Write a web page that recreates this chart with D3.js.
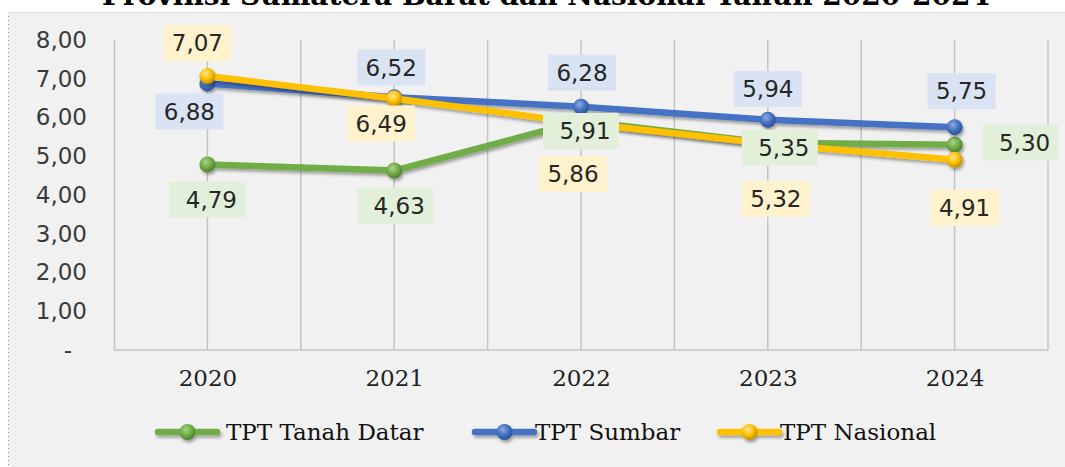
<!DOCTYPE html>
<html lang="id">
<head>
<meta charset="utf-8">
<title>TPT Tanah Datar, Sumbar, Nasional 2020-2024</title>
<script src="https://cdn.jsdelivr.net/npm/d3@7"></script>
<style>
	body { margin: 0; background: #fff; }
	svg { display: block; }
</style>
</head>
<body>
<script>
	// data
	const years = ["2020", "2021", "2022", "2023", "2024"];
	const tanahDatar = [4.79, 4.63, 5.91, 5.35, 5.30];
	const sumbar = [6.88, 6.52, 6.28, 5.94, 5.75];
	const nasional = [7.07, 6.49, 5.86, 5.32, 4.91];
	const yTicks = [0, 1, 2, 3, 4, 5, 6, 7, 8];
	const seriesNames = ["TPT Tanah Datar", "TPT Sumbar", "TPT Nasional"];

	// label offsets (dx, dy) from each point, per series
	const labelOffsets = [
		[[0, 35], [1, 35], [0, 10], [12, 5], [66, -2]],
		[[-18, 28], [-3, -30], [1, -34], [0, -31], [7, -36]],
		[[-10, -33], [-13, 25], [-8, 51], [8, 55], [10, 48]]
	];

	const w = 1065, h = 467;
	const plotLeft = 114, plotRight = 1048, plotTop = 40, plotBottom = 350;

	const series = [
		{ name: seriesNames[0], values: tanahDatar, color: "#70ad47", light: "#a9d18e", dark: "#4e7f2f", box: "#e2f0d9", boxW: 76, textDx: 4 },
		{ name: seriesNames[1], values: sumbar, color: "#4472c4", light: "#8faadc", dark: "#2f528f", box: "#dae3f3", boxW: 68, textDx: 0 },
		{ name: seriesNames[2], values: nasional, color: "#ffc000", light: "#ffe699", dark: "#bf9000", box: "#fff2cc", boxW: 68, textDx: 0 }
	];

	const svg = d3.select("body").append("svg")
		.attr("width", w)
		.attr("height", h);

	const defs = svg.append("defs");

	const shadow = defs.append("filter")
		.attr("id", "shadow")
		.attr("x", "-20%").attr("y", "-50%")
		.attr("width", "140%").attr("height", "200%");
	shadow.append("feDropShadow")
		.attr("dx", 1.5).attr("dy", 2.5)
		.attr("stdDeviation", 1.5)
		.attr("flood-color", "#000")
		.attr("flood-opacity", 0.35);

	series.forEach(function (s, i) {
		const g = defs.append("radialGradient")
			.attr("id", "ball" + i)
			.attr("cx", "40%").attr("cy", "35%").attr("r", "65%");
		g.append("stop").attr("offset", "0%").attr("stop-color", s.light);
		g.append("stop").attr("offset", "55%").attr("stop-color", s.color);
		g.append("stop").attr("offset", "100%").attr("stop-color", s.dark);
	});

	// title, cut off at the top as in the source
	svg.append("text")
		.attr("x", 546)
		.attr("y", 5)
		.attr("text-anchor", "middle")
		.attr("font-family", "DejaVu Serif")
		.attr("font-weight", "bold")
		.attr("font-size", "28px")
		.attr("textLength", 888)
		.attr("lengthAdjust", "spacingAndGlyphs")
		.attr("fill", "#000")
		.text("Provinsi Sumatera Barat dan Nasional Tahun 2020-2024");

	// chart panel
	svg.append("rect")
		.attr("x", 8).attr("y", 12)
		.attr("width", w - 8).attr("height", h - 12)
		.attr("fill", "#f1f1f1");
	svg.append("line")
		.attr("x1", 8.5).attr("x2", 8.5)
		.attr("y1", 12).attr("y2", h)
		.attr("stroke", "#999")
		.attr("stroke-dasharray", "1,3");
	svg.append("line")
		.attr("x1", 8).attr("x2", w)
		.attr("y1", 12.5).attr("y2", 12.5)
		.attr("stroke", "#ddd");

	const x = d3.scalePoint()
		.domain(years)
		.range([plotLeft, plotRight])
		.padding(0.5);
	const step = x.step();

	const y = d3.scaleLinear()
		.domain([0, 8])
		.range([plotBottom, plotTop]);

	// vertical gridlines at category centres and boundaries
	const gridX = [];
	years.forEach(function (yr, i) {
		if (i > 0) gridX.push(x(yr) - step / 2);
		gridX.push(x(yr));
	});
	gridX.push(plotRight);

	svg.selectAll("line.grid")
		.data(gridX)
		.enter()
		.append("line")
		.attr("class", "grid")
		.attr("x1", function (d) { return d; })
		.attr("x2", function (d) { return d; })
		.attr("y1", plotTop)
		.attr("y2", plotBottom)
		.attr("stroke", "#c3c3c3")
		.attr("stroke-width", 1.5);

	// y axis
	const yAxis = d3.axisLeft(y)
		.tickValues(yTicks)
		.tickSize(0)
		.tickPadding(27)
		.tickFormat(function (d) {
			return d === 0 ? "-" : d.toFixed(2).replace(".", ",");
		});

	const gy = svg.append("g")
		.attr("transform", `translate(${plotLeft},0)`)
		.call(yAxis);
	gy.select(".domain").attr("stroke", "#c3c3c3").attr("stroke-width", 1.5);
	gy.selectAll("text")
		.attr("font-family", "DejaVu Sans")
		.attr("font-size", "23px")
		.attr("fill", "#3a3a3a")
		.attr("dx", function (d) { return d === 0 ? -15 : 0; });

	// x axis
	const xAxis = d3.axisBottom(x)
		.tickSize(0)
		.tickPadding(20);

	const gx = svg.append("g")
		.attr("transform", `translate(0,${plotBottom})`)
		.call(xAxis);
	gx.select(".domain")
		.attr("d", `M${plotLeft},0H${plotRight}`)
		.attr("stroke", "#c3c3c3")
		.attr("stroke-width", 1.5);
	gx.selectAll("text")
		.attr("font-family", "DejaVu Serif")
		.attr("font-size", "23px")
		.attr("fill", "#222");

	// lines and markers
	const line = d3.line()
		.x(function (d, i) { return x(years[i]); })
		.y(function (d) { return y(d); });

	series.forEach(function (s, si) {
		const g = svg.append("g").attr("filter", "url(#shadow)");
		g.append("path")
			.datum(s.values)
			.attr("d", line)
			.attr("fill", "none")
			.attr("stroke", s.color)
			.attr("stroke-width", 6.5)
			.attr("stroke-linejoin", "round")
			.attr("stroke-linecap", "round");
		g.selectAll("circle")
			.data(s.values)
			.enter()
			.append("circle")
			.attr("cx", function (d, i) { return x(years[i]); })
			.attr("cy", function (d) { return y(d); })
			.attr("r", 8)
			.attr("fill", "url(#ball" + si + ")");
	});

	// data labels
	series.forEach(function (s, si) {
		const g = svg.append("g");
		const lab = g.selectAll("g")
			.data(s.values)
			.enter()
			.append("g")
			.attr("transform", function (d, i) {
				const o = labelOffsets[si][i];
				return `translate(${x(years[i]) + o[0]},${y(d) + o[1]})`;
			});
		lab.append("rect")
			.attr("x", -s.boxW / 2)
			.attr("y", -18)
			.attr("width", s.boxW)
			.attr("height", 36)
			.attr("fill", s.box);
		lab.append("text")
			.attr("x", s.textDx)
			.attr("y", 0)
			.attr("dy", "0.36em")
			.attr("text-anchor", "middle")
			.attr("font-family", "DejaVu Sans")
			.attr("font-size", "23px")
			.attr("fill", "#262626")
			.text(function (d) { return d.toFixed(2).replace(".", ","); });
	});

	// legend
	const legendX = [158, 475, 720];
	const legendY = 432;
	series.forEach(function (s, si) {
		const g = svg.append("g")
			.attr("transform", `translate(${legendX[si]},${legendY})`);
		const lg = g.append("g").attr("filter", "url(#shadow)");
		lg.append("line")
			.attr("x1", 0).attr("x2", 59)
			.attr("stroke", s.color)
			.attr("stroke-width", 6.5)
			.attr("stroke-linecap", "round");
		lg.append("circle")
			.attr("cx", 29.5)
			.attr("r", 8)
			.attr("fill", "url(#ball" + si + ")");
		g.append("text")
			.attr("x", si === 0 ? 68 : 60)
			.attr("dy", "0.35em")
			.attr("font-family", "DejaVu Serif")
			.attr("font-size", "23px")
			.attr("fill", "#111")
			.text(s.name);
	});
</script>
</body>
</html>
